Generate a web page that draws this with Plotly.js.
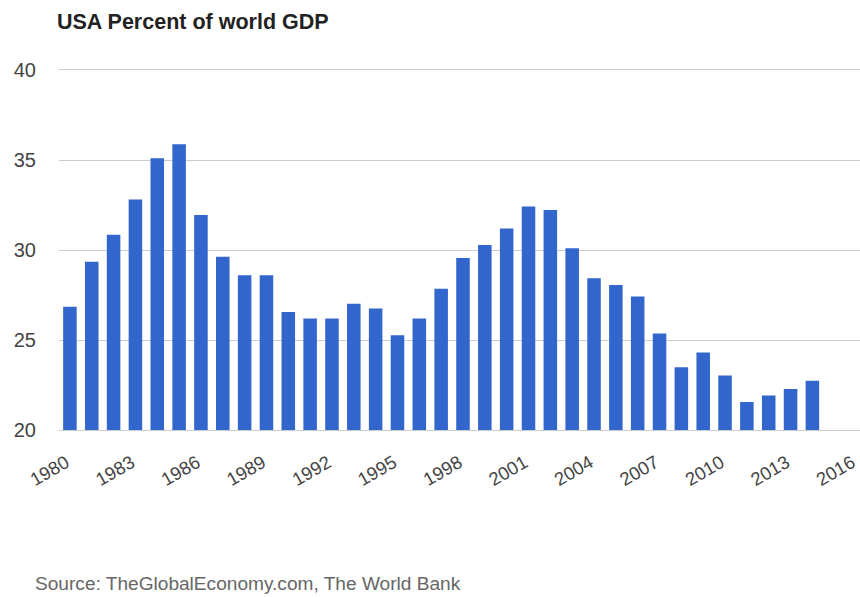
<!DOCTYPE html>
<html>
<head>
<meta charset="utf-8">
<script src="https://cdn.plot.ly/plotly-3.0.1.min.js"></script>
<style>html,body{margin:0;padding:0;background:#fff;}#chart{width:860px;height:597px;}</style>
</head>
<body>
<div id="chart"></div>
<script>
const years = [1980,1981,1982,1983,1984,1985,1986,1987,1988,1989,1990,1991,1992,1993,1994,1995,1996,1997,1998,1999,2000,2001,2002,2003,2004,2005,2006,2007,2008,2009,2010,2011,2012,2013,2014];
const usaShare = [26.85,29.35,30.85,32.8,35.1,35.87,31.95,29.63,28.6,28.6,26.56,26.2,26.2,27.02,26.75,25.27,26.2,27.85,29.55,30.28,31.2,32.42,32.22,30.1,28.43,28.06,27.42,25.36,23.48,24.31,23.03,21.55,21.92,22.28,22.74];
const yTicks = [20,25,30,35,40];
const xTicks = [1980,1983,1986,1989,1992,1995,1998,2001,2004,2007,2010,2013,2016];
const titleText = "USA Percent of world GDP";
const sourceText = "Source: TheGlobalEconomy.com, The World Bank";

const font = "Arial, 'Liberation Sans', sans-serif";

Plotly.newPlot('chart', [{
  type: 'bar',
  x: years,
  y: usaShare,
  width: 0.62,
  marker: {color: '#3366cc'},
  hoverinfo: 'x+y'
}], {
  width: 860, height: 597,
  margin: {l: 59, r: 0, t: 70, b: 167, pad: 0},
  paper_bgcolor: '#fff', plot_bgcolor: '#fff',
  showlegend: false,
  title: {text: titleText, x: 57/860, xanchor: 'left', xref: 'container', y: 1 - 21/597, yanchor: 'middle',
          font: {family: font, size: 21.5, color: '#222', weight: 'bold'}},
  xaxis: {
    range: [1979.5, 2016.18],
    tickmode: 'array', tickvals: xTicks, ticktext: xTicks.map(String),
    tickangle: -30, showgrid: false, zeroline: false,
    showline: true, mirror: true, linecolor: '#cccccc', linewidth: 1,
    ticks: '', ticklabeloverflow: 'allow', ticklabelstandoff: 14, ticklabelshift: -4,
    tickfont: {family: font, size: 18.5, color: '#444'}
  },
  yaxis: {
    range: [20, 40],
    tickmode: 'array', tickvals: yTicks, ticktext: yTicks.map(String),
    showgrid: true, gridcolor: '#cccccc', gridwidth: 1,
    zeroline: false, showline: false, ticks: '',
    ticklabelstandoff: 22,
    tickfont: {family: font, size: 20, color: '#444'}
  },
  annotations: [{
    text: sourceText, xref: 'paper', yref: 'paper',
    x: (33 - 59) / 801, y: (430 - 583) / 360, xanchor: 'left', yanchor: 'middle',
    showarrow: false, font: {family: font, size: 19.1, color: '#666'}
  }]
}, {displayModeBar: false, staticPlot: true});
</script>
</body>
</html>
